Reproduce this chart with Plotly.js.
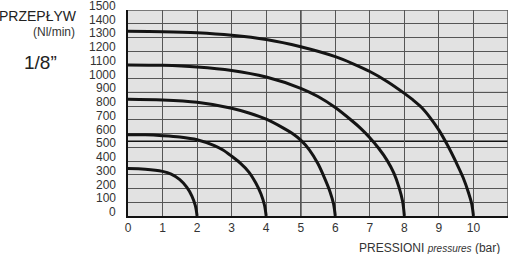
<!DOCTYPE html>
<html>
<head>
<meta charset="utf-8">
<script src="https://cdn.plot.ly/plotly-3.0.1.min.js"></script>
<style>html,body{margin:0;padding:0;background:#fff;}#chart{width:512px;height:254px;}</style>
</head>
<body>
<div id="chart"></div>
<script>
// Pressure (bar) / flow (Nl/min) curves for supply pressures 2,4,6,8,10 bar
const p2 = [0, 0.5, 1, 1.25, 1.5, 1.7, 1.85, 1.95, 2];
const q2 = [345, 341, 325, 305, 265, 210, 145, 75, 0];
const p4 = [0, 0.5, 1, 1.5, 2, 2.5, 2.75, 3, 3.25, 3.5, 3.7, 3.85, 3.95, 4];
const q4 = [592, 591, 585, 575, 555, 512, 480, 435, 385, 320, 240, 160, 80, 0];
const p6 = [0, 1, 2, 3, 3.5, 4, 4.5, 4.75, 5, 5.25, 5.5, 5.7, 5.85, 5.95, 6];
const q6 = [850, 845, 828, 785, 750, 705, 640, 602, 552, 482, 380, 270, 175, 88, 0];
const p8 = [0, 1, 2, 3, 4, 5, 5.5, 6, 6.5, 6.75, 7, 7.25, 7.5, 7.7, 7.85, 7.95, 8];
const q8 = [1100, 1097, 1085, 1060, 1012, 930, 870, 790, 690, 635, 570, 495, 405, 310, 205, 105, 0];
const p10 = [0, 1, 2, 3, 4, 5, 6, 6.5, 7, 7.5, 8, 8.25, 8.5, 8.75, 9, 9.25, 9.5, 9.7, 9.85, 9.95, 10];
const q10 = [1345, 1342, 1334, 1316, 1285, 1232, 1160, 1110, 1052, 980, 893, 845, 790, 715, 625, 515, 390, 280, 175, 88, 0];

const xTicks = [0,1,2,3,4,5,6,7,8,9,10,11];
const yTicks = [0,100,200,300,400,500,600,700,800,900,1000,1100,1200,1300,1400,1500];
const refFlow = 545;   // highlighted horizontal reference line
const refPressure = 5; // highlighted vertical reference line
const darkFlow = 900;

const series = [[p2,q2],[p4,q4],[p6,q6],[p8,q8],[p10,q10]];
const traces = series.map(s => ({
  x: s[0], y: s[1], type: 'scatter', mode: 'lines',
  line: {color: '#141414', width: 3, shape: 'spline', smoothing: 0.9},
  hoverinfo: 'skip', showlegend: false
}));

const font = 'Liberation Sans, Arial, sans-serif';

const yLabelAnn = yTicks.map(v => ({
  text: String(v), xref: 'paper', yref: 'y', x: 0, y: v,
  xanchor: 'right', yanchor: 'middle', xshift: -10, yshift: 4,
  showarrow: false, font: {family: font, size: 12, color: '#333'}
}));

const layout = {
  width: 512, height: 254,
  margin: {l: 128, r: 4, t: 10, b: 38, pad: 0},
  paper_bgcolor: '#ffffff',
  plot_bgcolor: '#e2e2e2',
  showlegend: false,
  xaxis: {
    range: [0, 11], tickvals: xTicks, ticktext: xTicks.map(String),
    showgrid: true, gridcolor: '#555', gridwidth: 1,
    showline: true, linecolor: '#111', linewidth: 2, mirror: false,
    zeroline: false, ticks: '', ticklabelstandoff: 0,
    tickfont: {family: font, size: 12, color: '#333'}, fixedrange: true
  },
  yaxis: {
    range: [0, 1500], tickvals: yTicks, showticklabels: false,
    showgrid: true, gridcolor: '#555', gridwidth: 1,
    showline: true, linecolor: '#111', linewidth: 2,
    zeroline: false, ticks: '', fixedrange: true
  },
  shapes: [
    {type: 'line', xref: 'x', yref: 'y', x0: refPressure, x1: refPressure, y0: 0, y1: 1500,
     line: {color: '#111', width: 1.5}, layer: 'below'},
    {type: 'line', xref: 'x', yref: 'y', x0: 0, x1: 11, y0: refFlow, y1: refFlow,
     line: {color: '#111', width: 1.5}, layer: 'below'},
    {type: 'line', xref: 'x', yref: 'y', x0: 0, x1: 11, y0: darkFlow, y1: darkFlow,
     line: {color: '#222', width: 1}, layer: 'below'},
    {type: 'line', xref: 'x', yref: 'y', x0: 11, x1: 11, y0: 0, y1: 1500,
     line: {color: '#555', width: 1.5}, layer: 'below'},
    {type: 'line', xref: 'x', yref: 'y', x0: 0, x1: 11, y0: 1500, y1: 1500,
     line: {color: '#555', width: 1.5}, layer: 'below'}
  ],
  annotations: yLabelAnn.concat([
    {text: 'PRZEPŁYW', xref: 'paper', yref: 'paper', x: -0.129, y: 0.971,
     xanchor: 'right', yanchor: 'middle', showarrow: false,
     font: {family: font, size: 14, color: '#222'}},
    {text: '(Nl/min)', xref: 'paper', yref: 'paper', x: -0.196, y: 0.891,
     xanchor: 'center', yanchor: 'middle', showarrow: false,
     font: {family: font, size: 12, color: '#333'}},
    {text: '1/8”', xref: 'paper', yref: 'paper', x: -0.230, y: 0.743,
     xanchor: 'center', yanchor: 'middle', showarrow: false,
     font: {family: font, size: 19, color: '#222'}},
    {text: 'PRESSIONI <i><span style="font-size:10px">pressures</span></i> (bar)',
     xref: 'paper', yref: 'paper', x: 0.985, y: -0.155,
     xanchor: 'right', yanchor: 'middle', showarrow: false,
     font: {family: font, size: 12, color: '#333'}}
  ])
};

Plotly.newPlot('chart', traces, layout, {staticPlot: true, displayModeBar: false});
</script>
</body>
</html>
